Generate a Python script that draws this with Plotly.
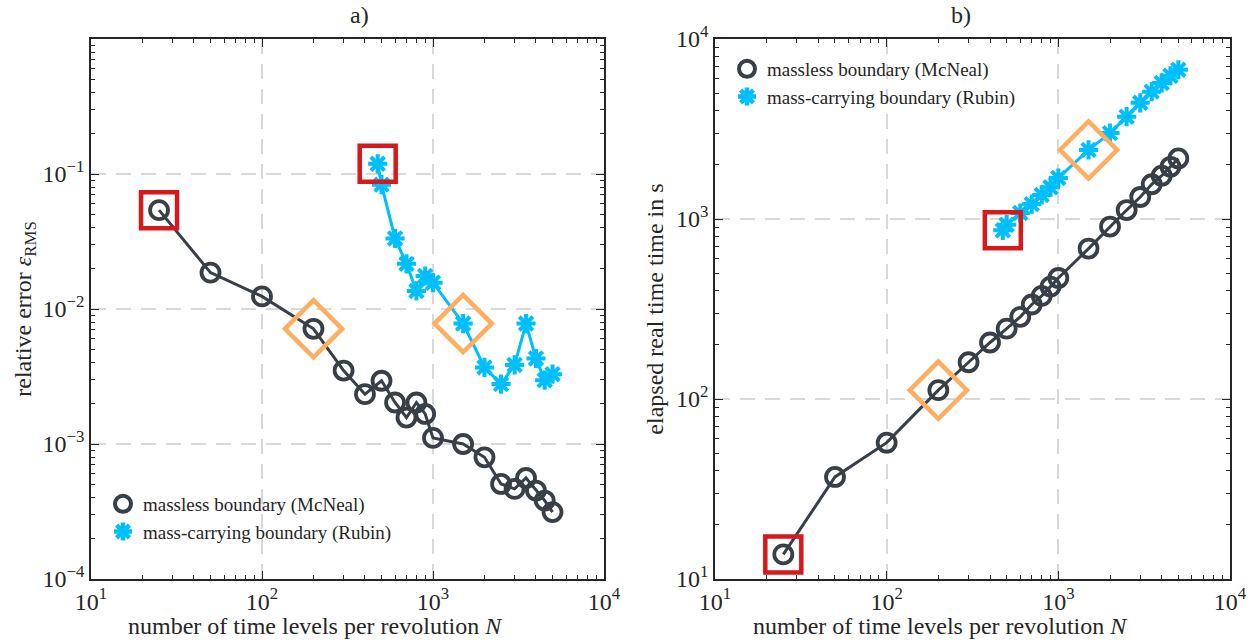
import plotly.graph_objects as go

# ---------------- data ----------------
N_mcneal = [25, 50, 100, 200, 300, 400, 500, 600, 700, 800, 900, 1000,
            1500, 2000, 2500, 3000, 3500, 4000, 4500, 5000]
err_mcneal = [0.054, 0.0186, 0.0124, 0.00713, 0.0035, 0.00234, 0.00294, 0.00203,
              0.00157, 0.00203, 0.00167, 0.00111, 0.00100, 0.000797, 0.000506,
              0.000465, 0.000560, 0.000452, 0.000381, 0.000313]
time_mcneal = [13.7, 36.9, 57.2, 112, 160, 206, 246, 286, 335, 374, 421, 470,
               685, 908, 1121, 1325, 1560, 1740, 1950, 2170]

N_rubin = [475, 500, 600, 700, 800, 900, 1000, 1500, 2000, 2500, 3000, 3500,
           4000, 4500, 5000]
err_rubin = [0.119, 0.0834, 0.0333, 0.0216, 0.0136, 0.01755, 0.01567, 0.0078,
             0.00369, 0.00278, 0.00385, 0.0078, 0.0043, 0.00297, 0.00329]
time_rubin = [865, 930, 1080, 1210, 1360, 1500, 1690, 2420, 3000, 3700, 4420,
              5100, 5700, 6250, 6750]

# highlighted points
square_idx_mcneal = 0
square_idx_rubin = 0
diamond_N_mcneal = 200
diamond_N_rubin = 1500

labels = ["massless boundary (McNeal)", "mass-carrying boundary (Rubin)"]
titles = ["a)", "b)"]
xtitle = "number of time levels per revolution <i>N</i>"
ytitles = ["relative error <i>ε</i><sub>RMS</sub>", "elapsed real time time in s"]

x_tickvals = [10, 100, 1000, 10000]
x_ticktext = ["10<sup>1</sup>", "10<sup>2</sup>", "10<sup>3</sup>", "10<sup>4</sup>"]
y1_tickvals = [1e-4, 1e-3, 1e-2, 1e-1]
y1_ticktext = ["10<sup>−4</sup>", "10<sup>−3</sup>", "10<sup>−2</sup>", "10<sup>−1</sup>"]
y2_tickvals = [10, 100, 1000, 10000]
y2_ticktext = ["10<sup>1</sup>", "10<sup>2</sup>", "10<sup>3</sup>", "10<sup>4</sup>"]
minor_digits = [2, 3, 4, 5, 6, 7, 8, 9]
x_decades = [10, 100, 1000]
y1_decades = [1e-4, 1e-3, 1e-2, 1e-1]
y2_decades = [10, 100, 1000]

# ---------------- style ----------------
DARK = "#393f47"
BLUE = "#00bfff"
RED = "#d7191c"
ORANGE = "#fdae61"
FONT = "Liberation Serif, DejaVu Serif, serif"
AX = "#262626"
TICKFS = 24
TITLEFS = 24

fig = go.Figure()

def add_panel(xa, ya, y_m, y_r, legend):
    fig.add_trace(go.Scatter(
        x=N_mcneal, y=y_m, mode="lines+markers", showlegend=False,
        line=dict(color=DARK, width=3),
        marker=dict(symbol="circle-open", size=18, color=DARK,
                    line=dict(width=3.8, color=DARK)),
        xaxis=xa, yaxis=ya))
    fig.add_trace(go.Scatter(
        x=N_rubin, y=y_r, mode="lines+markers", showlegend=False,
        line=dict(color=BLUE, width=3),
        marker=dict(symbol="asterisk-open", size=16, color=BLUE,
                    line=dict(width=4, color=BLUE)),
        xaxis=xa, yaxis=ya))
    fig.add_trace(go.Scatter(
        x=[N_mcneal[square_idx_mcneal], N_rubin[square_idx_rubin]],
        y=[y_m[square_idx_mcneal], y_r[square_idx_rubin]],
        mode="markers", showlegend=False,
        marker=dict(symbol="square-open", size=36, color=RED,
                    line=dict(width=4.5, color=RED)),
        xaxis=xa, yaxis=ya))
    im = N_mcneal.index(diamond_N_mcneal)
    ir = N_rubin.index(diamond_N_rubin)
    fig.add_trace(go.Scatter(
        x=[N_mcneal[im], N_rubin[ir]], y=[y_m[im], y_r[ir]],
        mode="markers", showlegend=False,
        marker=dict(symbol="diamond-open", size=44, color=ORANGE,
                    line=dict(width=4.5, color=ORANGE)),
        xaxis=xa, yaxis=ya))
    # legend entries (marker only)
    fig.add_trace(go.Scatter(
        x=[None], y=[None], mode="markers", name=labels[0],
        marker=dict(symbol="circle-open", size=16, color=DARK,
                    line=dict(width=4, color=DARK)),
        xaxis=xa, yaxis=ya, legend=legend))
    fig.add_trace(go.Scatter(
        x=[None], y=[None], mode="markers", name=labels[1],
        marker=dict(symbol="asterisk-open", size=15, color=BLUE,
                    line=dict(width=4.5, color=BLUE)),
        xaxis=xa, yaxis=ya, legend=legend))

add_panel("x", "y", err_mcneal, err_rubin, "legend")
add_panel("x2", "y2", time_mcneal, time_rubin, "legend2")

W, H = 1258, 643
top, bottom = 39, 579
left_dom = [91 / W, 604 / W]
right_dom = [715 / W, 1230 / W]
ydom = [1 - bottom / H, 1 - top / H]

def minor_vals(decades):
    return [d * m for d in decades for m in minor_digits]

def axis(tickvals, ticktext, decades, rng, dom, anchor, title, standoff):
    d = dict(
        type="log", range=rng, domain=dom, anchor=anchor, automargin=False,
        showline=True, linecolor=AX, linewidth=1.5,
        mirror="allticks", ticks="inside", ticklen=8, tickwidth=1.2, tickcolor=AX,
        tickmode="array", tickvals=tickvals, ticktext=ticktext,
        showgrid=True, gridcolor="#d9d9d9", gridwidth=1.5, griddash="15px,10px",
        zeroline=False,
        minor=dict(ticks="inside", ticklen=4.5, tickwidth=1, tickcolor=AX,
                   tickmode="array", tickvals=minor_vals(decades), showgrid=False),
        tickfont=dict(family=FONT, size=TICKFS, color=AX),
    )
    if title:
        d["title"] = dict(text=title, font=dict(family=FONT, size=TITLEFS, color=AX),
                          standoff=standoff)
    return d

xt_y = 1 - 626 / H
fig.update_layout(
    width=W, height=H,
    margin=dict(l=0, r=0, t=0, b=0, autoexpand=False),
    paper_bgcolor="white", plot_bgcolor="white",
    font=dict(family=FONT, size=21, color=AX),
    xaxis=axis(x_tickvals, x_ticktext, x_decades, [1, 4], left_dom, "y", None, 0),
    yaxis=axis(y1_tickvals, y1_ticktext, y1_decades, [-4, 0], ydom, "x", ytitles[0], 4),
    xaxis2=axis(x_tickvals, x_ticktext, x_decades, [1, 4], right_dom, "y2", None, 0),
    yaxis2=axis(y2_tickvals, y2_ticktext, y2_decades, [1, 4], ydom, "x2", ytitles[1], 6),
    legend=dict(x=103 / W, y=1 - 485 / H, xanchor="left", yanchor="top",
                bgcolor="rgba(255,255,255,0)", borderwidth=0,
                font=dict(family=FONT, size=19, color=AX), itemwidth=30,
                tracegroupgap=0),
    legend2=dict(x=727 / W, y=1 - 50 / H, xanchor="left", yanchor="top",
                 bgcolor="rgba(255,255,255,0)", borderwidth=0,
                 font=dict(family=FONT, size=19, color=AX), itemwidth=30,
                 tracegroupgap=0),
    annotations=[
        dict(text=titles[0], x=(left_dom[0] + left_dom[1]) / 2, y=1,
             xref="paper", yref="paper", showarrow=False, yanchor="top",
             font=dict(family=FONT, size=TITLEFS, color=AX)),
        dict(text=titles[1], x=(right_dom[0] + right_dom[1]) / 2, y=1,
             xref="paper", yref="paper", showarrow=False, yanchor="top",
             font=dict(family=FONT, size=TITLEFS, color=AX)),
        dict(text=xtitle, x=316 / W, y=xt_y, xref="paper", yref="paper",
             showarrow=False, yanchor="middle", xanchor="center",
             font=dict(family=FONT, size=TITLEFS, color=AX)),
        dict(text=xtitle, x=940 / W, y=xt_y, xref="paper", yref="paper",
             showarrow=False, yanchor="middle", xanchor="center",
             font=dict(family=FONT, size=TITLEFS, color=AX)),
    ],
)

fig.write_html("out.html")
